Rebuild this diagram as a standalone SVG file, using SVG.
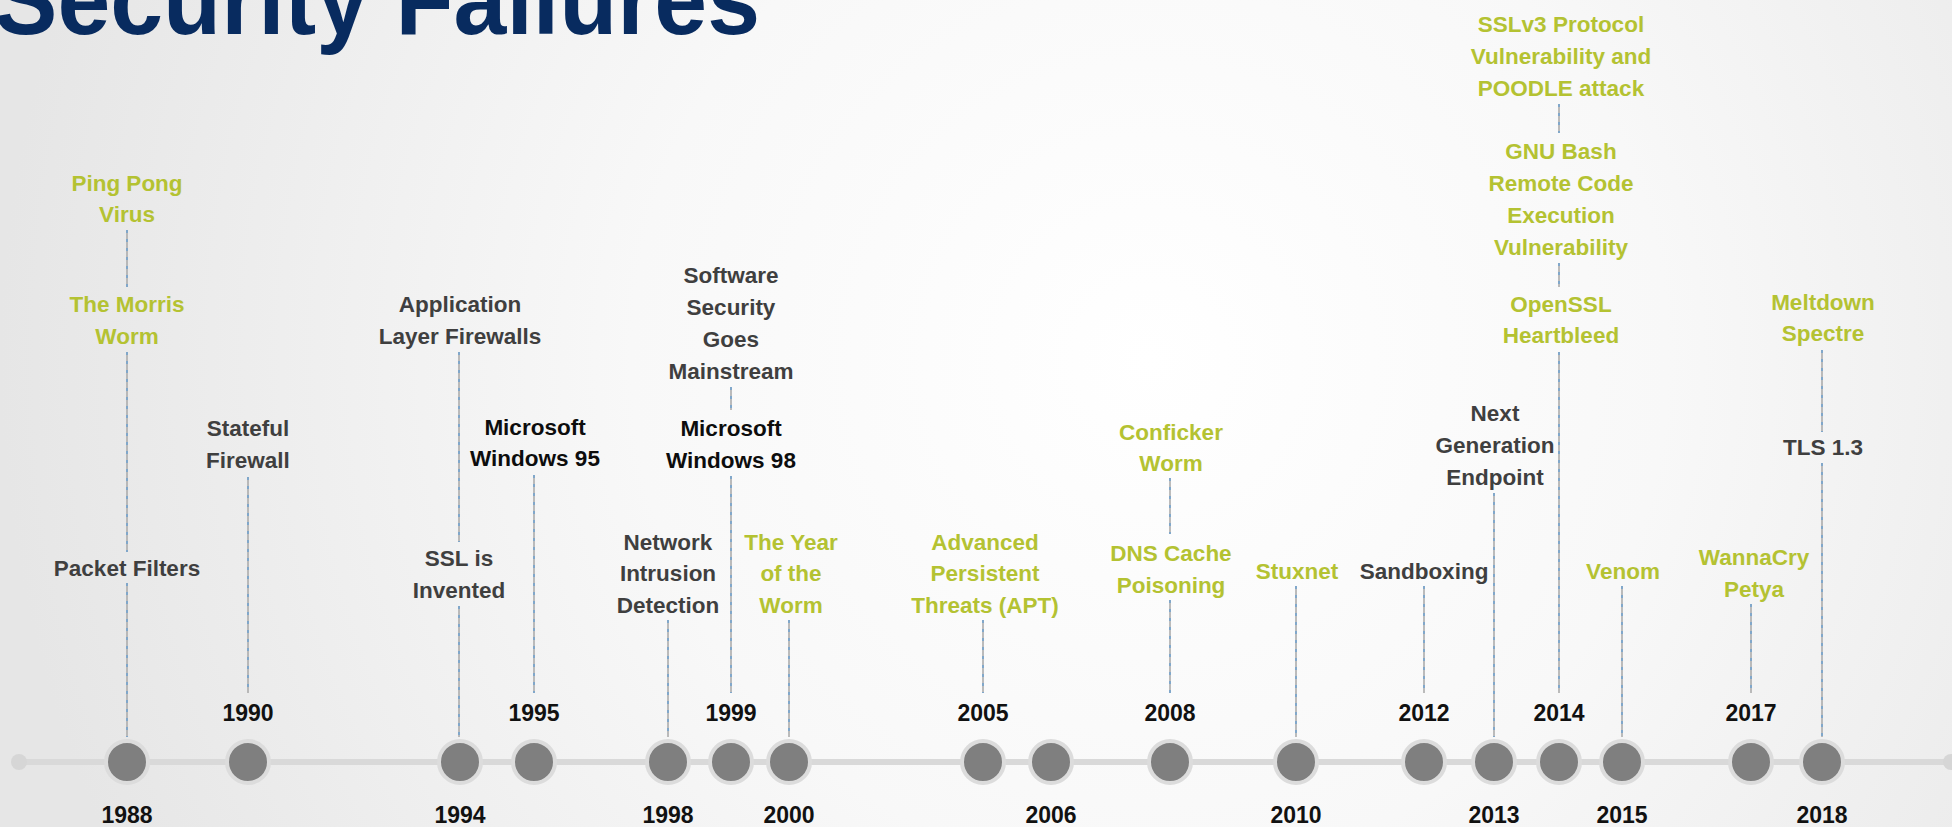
<svg xmlns="http://www.w3.org/2000/svg" width="1952" height="827" viewBox="0 0 1952 827">
<defs>
<radialGradient id="bg" cx="1150" cy="360" r="1150" gradientUnits="userSpaceOnUse">
<stop offset="0" stop-color="#ffffff"/>
<stop offset="0.45" stop-color="#f8f8f8"/>
<stop offset="1" stop-color="#e6e6e6"/>
</radialGradient>
<style>
text{font-family:"Liberation Sans",Arial,sans-serif;font-weight:bold;text-anchor:middle}
.ev{font-size:22.5px}
.g{fill:#b4c232}
.d{fill:#3f3f3f}
.k{fill:#0d0d0d}
.yr{font-size:23px;fill:#111111}
.title{font-size:100px;fill:#082b5f;text-anchor:start}
.cb{stroke:#acacac;stroke-width:1.6;fill:none}
.cd{stroke:#5b9bd5;stroke-width:1.2;stroke-dasharray:3 6;fill:none}
.dot{fill:#7f7f7f;stroke:#dcdcdc;stroke-width:4}
.axis{stroke:#d9d9d9;stroke-width:6}
</style>
</defs>
<rect x="0" y="0" width="1952" height="827" fill="url(#bg)"/>
<text class="title" x="-6" y="34" textLength="766" lengthAdjust="spacingAndGlyphs">Security Failures</text>

<g id="axis">
<line class="axis" x1="19" y1="762" x2="1952" y2="762"/>
<circle cx="19" cy="762" r="8" fill="#d6d6d6"/>
<circle cx="1951" cy="762" r="8" fill="#d6d6d6"/>
</g>

<g id="connectors">
<g class="cb">
<path d="M127 230V287M127 352V552M127 583V737M248 477V693M459 352V542M459 606V737M534 475V693M668 620V737M731 387V410M731 476V693M789 620V737M983 620V693M1170 478V534M1170 600V693M1296 586V737M1424 586V693M1494 493V737M1559 104V133M1559 263V287M1559 352V693M1622 586V737M1751 604V693M1822 350V432M1822 463V737"/>
</g>
<g class="cd">
<path d="M127 230V287M127 352V552M127 583V737M248 477V693M459 352V542M459 606V737M534 475V693M668 620V737M731 387V410M731 476V693M789 620V737M983 620V693M1170 478V534M1170 600V693M1296 586V737M1424 586V693M1494 493V737M1559 104V133M1559 263V287M1559 352V693M1622 586V737M1751 604V693M1822 350V432M1822 463V737"/>
</g>
</g>

<g id="y1988"><circle class="dot" cx="127" cy="762" r="21"/><text class="yr" x="127" y="823">1988</text></g>
<g id="y1990"><circle class="dot" cx="248" cy="762" r="21"/><text class="yr" x="248" y="721">1990</text></g>
<g id="y1994"><circle class="dot" cx="460" cy="762" r="21"/><text class="yr" x="460" y="823">1994</text></g>
<g id="y1995"><circle class="dot" cx="534" cy="762" r="21"/><text class="yr" x="534" y="721">1995</text></g>
<g id="y1998"><circle class="dot" cx="668" cy="762" r="21"/><text class="yr" x="668" y="823">1998</text></g>
<g id="y1999"><circle class="dot" cx="731" cy="762" r="21"/><text class="yr" x="731" y="721">1999</text></g>
<g id="y2000"><circle class="dot" cx="789" cy="762" r="21"/><text class="yr" x="789" y="823">2000</text></g>
<g id="y2005"><circle class="dot" cx="983" cy="762" r="21"/><text class="yr" x="983" y="721">2005</text></g>
<g id="y2006"><circle class="dot" cx="1051" cy="762" r="21"/><text class="yr" x="1051" y="823">2006</text></g>
<g id="y2008"><circle class="dot" cx="1170" cy="762" r="21"/><text class="yr" x="1170" y="721">2008</text></g>
<g id="y2010"><circle class="dot" cx="1296" cy="762" r="21"/><text class="yr" x="1296" y="823">2010</text></g>
<g id="y2012"><circle class="dot" cx="1424" cy="762" r="21"/><text class="yr" x="1424" y="721">2012</text></g>
<g id="y2013"><circle class="dot" cx="1494" cy="762" r="21"/><text class="yr" x="1494" y="823">2013</text></g>
<g id="y2014"><circle class="dot" cx="1559" cy="762" r="21"/><text class="yr" x="1559" y="721">2014</text></g>
<g id="y2015"><circle class="dot" cx="1622" cy="762" r="21"/><text class="yr" x="1622" y="823">2015</text></g>
<g id="y2017"><circle class="dot" cx="1751" cy="762" r="21"/><text class="yr" x="1751" y="721">2017</text></g>
<g id="y2018"><circle class="dot" cx="1822" cy="762" r="21"/><text class="yr" x="1822" y="823">2018</text></g>

<g id="ev-pingpong"><text class="ev g" x="127" y="191">Ping Pong</text><text class="ev g" x="127" y="222">Virus</text></g>
<g id="ev-morris"><text class="ev g" x="127" y="312">The Morris</text><text class="ev g" x="127" y="344">Worm</text></g>
<g id="ev-packet"><text class="ev d" x="127" y="576">Packet Filters</text></g>
<g id="ev-stateful"><text class="ev d" x="248" y="436">Stateful</text><text class="ev d" x="248" y="468">Firewall</text></g>
<g id="ev-appfw"><text class="ev d" x="460" y="312">Application</text><text class="ev d" x="460" y="344">Layer Firewalls</text></g>
<g id="ev-ssl"><text class="ev d" x="459" y="566">SSL is</text><text class="ev d" x="459" y="598">Invented</text></g>
<g id="ev-win95"><text class="ev k" x="535" y="435">Microsoft</text><text class="ev k" x="535" y="466">Windows 95</text></g>
<g id="ev-nid"><text class="ev d" x="668" y="550">Network</text><text class="ev d" x="668" y="581">Intrusion</text><text class="ev d" x="668" y="613">Detection</text></g>
<g id="ev-software"><text class="ev d" x="731" y="283">Software</text><text class="ev d" x="731" y="315">Security</text><text class="ev d" x="731" y="347">Goes</text><text class="ev d" x="731" y="379">Mainstream</text></g>
<g id="ev-win98"><text class="ev k" x="731" y="436">Microsoft</text><text class="ev k" x="731" y="468">Windows 98</text></g>
<g id="ev-yearworm"><text class="ev g" x="791" y="550">The Year</text><text class="ev g" x="791" y="581">of the</text><text class="ev g" x="791" y="613">Worm</text></g>
<g id="ev-apt"><text class="ev g" x="985" y="550">Advanced</text><text class="ev g" x="985" y="581">Persistent</text><text class="ev g" x="985" y="613">Threats (APT)</text></g>
<g id="ev-conficker"><text class="ev g" x="1171" y="440">Conficker</text><text class="ev g" x="1171" y="471">Worm</text></g>
<g id="ev-dns"><text class="ev g" x="1171" y="561">DNS Cache</text><text class="ev g" x="1171" y="593">Poisoning</text></g>
<g id="ev-stuxnet"><text class="ev g" x="1297" y="579">Stuxnet</text></g>
<g id="ev-sandbox"><text class="ev d" x="1424" y="579">Sandboxing</text></g>
<g id="ev-ngep"><text class="ev d" x="1495" y="421">Next</text><text class="ev d" x="1495" y="453">Generation</text><text class="ev d" x="1495" y="485">Endpoint</text></g>
<g id="ev-sslv3"><text class="ev g" x="1561" y="32">SSLv3 Protocol</text><text class="ev g" x="1561" y="64">Vulnerability and</text><text class="ev g" x="1561" y="96">POODLE attack</text></g>
<g id="ev-bash"><text class="ev g" x="1561" y="159">GNU Bash</text><text class="ev g" x="1561" y="191">Remote Code</text><text class="ev g" x="1561" y="223">Execution</text><text class="ev g" x="1561" y="255">Vulnerability</text></g>
<g id="ev-heartbleed"><text class="ev g" x="1561" y="312">OpenSSL</text><text class="ev g" x="1561" y="343">Heartbleed</text></g>
<g id="ev-venom"><text class="ev g" x="1623" y="579">Venom</text></g>
<g id="ev-wannacry"><text class="ev g" x="1754" y="565">WannaCry</text><text class="ev g" x="1754" y="597">Petya</text></g>
<g id="ev-meltdown"><text class="ev g" x="1823" y="310">Meltdown</text><text class="ev g" x="1823" y="341">Spectre</text></g>
<g id="ev-tls"><text class="ev d" x="1823" y="455">TLS 1.3</text></g>
</svg>
